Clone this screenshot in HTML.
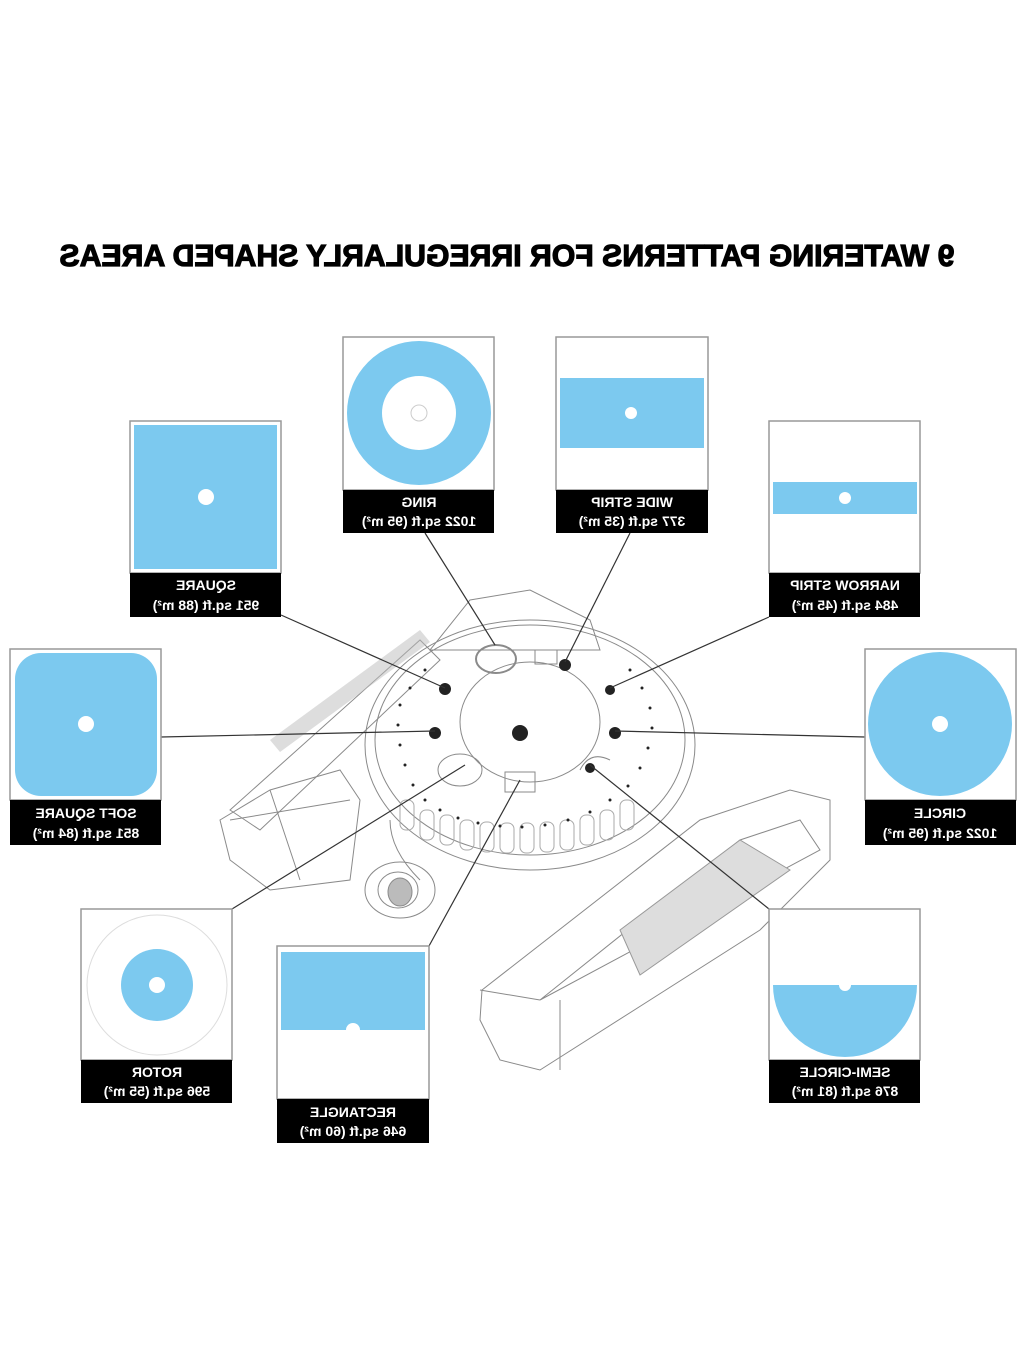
<!DOCTYPE html>
<html><head><meta charset="utf-8"><style>
html,body{margin:0;padding:0;background:#fff;width:1024px;height:1365px;overflow:hidden}
svg{display:block}
.t{font-family:"Liberation Sans",sans-serif;font-weight:bold;fill:#fff;font-size:14px}
.ttl{font-family:"Liberation Sans",sans-serif;font-weight:900;font-size:31px;fill:#000;stroke:#000;stroke-width:1.2}
.sk{fill:none;stroke:#8a8a8a;stroke-width:1}
.ln{stroke:#333;stroke-width:1.2;fill:none}
.box{fill:#fff;stroke:#999;stroke-width:1.5}
</style></head><body>
<svg width="1024" height="1365" viewBox="0 0 1024 1365" xmlns="http://www.w3.org/2000/svg">
<text class="ttl" text-anchor="middle" transform="translate(507,266) scale(-1,1)" textLength="895" lengthAdjust="spacingAndGlyphs">9 WATERING PATTERNS FOR IRREGULARLY SHAPED AREAS</text>

<!-- sprinkler sketch -->
<g class="sk">
<polygon points="470,600 530,590 590,620 600,650 430,650"/>
<polygon points="230,810 420,640 440,660 260,830"/>
<polygon points="220,820 270,790 340,770 360,800 350,880 270,890 230,860"/>
<line x1="270" y1="790" x2="300" y2="880"/>
<line x1="230" y1="820" x2="350" y2="800"/>
<polygon points="482,990 700,820 790,790 830,800 830,860 760,930 540,1070 500,1060 480,1020"/>
<polygon points="540,1000 740,840 800,820 820,850"/>
<line x1="560" y1="1000" x2="560" y2="1070"/>
<line x1="480" y1="990" x2="540" y2="1000"/>
<ellipse cx="530" cy="740" rx="155" ry="115"/>
<ellipse cx="530" cy="745" rx="165" ry="125"/>
<ellipse cx="530" cy="722" rx="70" ry="60"/>
<ellipse cx="496" cy="659" rx="20" ry="14" stroke-width="2"/>
<rect x="535" y="650" width="22" height="14"/>
<ellipse cx="460" cy="770" rx="22" ry="16"/>
<rect x="505" y="772" width="30" height="20"/>
<path d="M580 770 q10 -20 30 -10"/>
<ellipse cx="400" cy="890" rx="35" ry="28"/>
<ellipse cx="398" cy="890" rx="20" ry="18"/>
<ellipse cx="400" cy="892" rx="12" ry="14" fill="#bbb"/>
<path d="M390 820 q0 30 30 60"/>
<g stroke="#aaa">
<rect x="400" y="800" width="14" height="30" rx="6"/><rect x="420" y="810" width="14" height="30" rx="6"/><rect x="440" y="815" width="14" height="30" rx="6"/><rect x="460" y="820" width="14" height="30" rx="6"/><rect x="480" y="822" width="14" height="30" rx="6"/><rect x="500" y="823" width="14" height="30" rx="6"/><rect x="520" y="823" width="14" height="30" rx="6"/><rect x="540" y="822" width="14" height="30" rx="6"/><rect x="560" y="820" width="14" height="30" rx="6"/><rect x="580" y="815" width="14" height="30" rx="6"/><rect x="600" y="810" width="14" height="30" rx="6"/><rect x="620" y="800" width="14" height="30" rx="6"/>
</g>
</g>
<polygon points="270,740 420,630 430,642 280,752" fill="#bbb" opacity="0.5"/>
<polygon points="620,930 740,840 790,870 640,975" fill="#ddd" stroke="#999"/>
<g fill="#222">
<circle cx="445" cy="689" r="6"/><circle cx="565" cy="665" r="6"/><circle cx="610" cy="690" r="5"/>
<circle cx="435" cy="733" r="6"/><circle cx="520" cy="733" r="8"/><circle cx="615" cy="733" r="6"/>
<circle cx="590" cy="768" r="5"/>
</g>
<g fill="#222">
<circle cx="400" cy="705" r="1.5"/><circle cx="398" cy="725" r="1.5"/><circle cx="400" cy="745" r="1.5"/><circle cx="405" cy="765" r="1.5"/><circle cx="413" cy="785" r="1.5"/><circle cx="425" cy="800" r="1.5"/><circle cx="440" cy="810" r="1.5"/><circle cx="458" cy="818" r="1.5"/><circle cx="478" cy="823" r="1.5"/><circle cx="500" cy="826" r="1.5"/><circle cx="522" cy="827" r="1.5"/><circle cx="545" cy="825" r="1.5"/><circle cx="568" cy="820" r="1.5"/><circle cx="590" cy="812" r="1.5"/><circle cx="610" cy="800" r="1.5"/><circle cx="628" cy="786" r="1.5"/><circle cx="640" cy="768" r="1.5"/><circle cx="648" cy="748" r="1.5"/><circle cx="652" cy="728" r="1.5"/><circle cx="650" cy="708" r="1.5"/><circle cx="642" cy="688" r="1.5"/><circle cx="630" cy="670" r="1.5"/><circle cx="410" cy="688" r="1.5"/><circle cx="425" cy="670" r="1.5"/>
</g>

<!-- connectors -->
<g class="ln">
<line x1="425" y1="533" x2="495" y2="645"/>
<line x1="630" y1="533" x2="565" y2="662"/>
<line x1="281" y1="615" x2="445" y2="688"/>
<line x1="769" y1="617" x2="610" y2="688"/>
<line x1="161" y1="737" x2="435" y2="731"/>
<line x1="865" y1="737" x2="615" y2="731"/>
<line x1="232" y1="909" x2="465" y2="765"/>
<line x1="429" y1="946" x2="520" y2="780"/>
<line x1="769" y1="909" x2="590" y2="765"/>
</g>

<!-- RING -->
<rect class="box" x="343" y="337" width="151" height="153"/>
<circle cx="419" cy="413" r="72" fill="#7cc9ef"/><circle cx="419" cy="413" r="37" fill="#fff"/><circle cx="419" cy="413" r="8" fill="none" stroke="#ccc"/>
<rect x="343" y="490" width="151" height="43" fill="#000"/>
<text class="t" text-anchor="middle" transform="translate(419,507) scale(-1,1)">RING</text>
<text class="t" text-anchor="middle" transform="translate(419,526) scale(-1,1)">1022 sq.ft (95 m²)</text>

<!-- WIDE STRIP -->
<rect class="box" x="556" y="337" width="152" height="153"/>
<rect x="560" y="378" width="144" height="70" fill="#7cc9ef"/><circle cx="631" cy="413" r="6" fill="#fff"/>
<rect x="556" y="490" width="152" height="43" fill="#000"/>
<text class="t" text-anchor="middle" transform="translate(632,507) scale(-1,1)">WIDE STRIP</text>
<text class="t" text-anchor="middle" transform="translate(632,526) scale(-1,1)">377 sq.ft (35 m²)</text>

<!-- SQUARE -->
<rect class="box" x="130" y="421" width="151" height="152"/>
<rect x="134" y="425" width="143" height="144" fill="#7cc9ef"/><circle cx="206" cy="497" r="8" fill="#fff"/>
<rect x="130" y="573" width="151" height="44" fill="#000"/>
<text class="t" text-anchor="middle" transform="translate(206,590) scale(-1,1)">SQUARE</text>
<text class="t" text-anchor="middle" transform="translate(206,610) scale(-1,1)">951 sq.ft (88 m²)</text>

<!-- NARROW STRIP -->
<rect class="box" x="769" y="421" width="151" height="152"/>
<rect x="773" y="482" width="144" height="32" fill="#7cc9ef"/><circle cx="845" cy="498" r="6" fill="#fff"/>
<rect x="769" y="573" width="151" height="44" fill="#000"/>
<text class="t" text-anchor="middle" transform="translate(845,590) scale(-1,1)">NARROW STRIP</text>
<text class="t" text-anchor="middle" transform="translate(845,610) scale(-1,1)">484 sq.ft (45 m²)</text>

<!-- SOFT SQUARE -->
<rect class="box" x="10" y="649" width="151" height="151"/>
<rect x="15" y="653" width="142" height="143" rx="26" fill="#7cc9ef"/><circle cx="86" cy="724" r="8" fill="#fff"/>
<rect x="10" y="800" width="151" height="45" fill="#000"/>
<text class="t" text-anchor="middle" transform="translate(86,818) scale(-1,1)">SOFT SQUARE</text>
<text class="t" text-anchor="middle" transform="translate(86,838) scale(-1,1)">851 sq.ft (84 m²)</text>

<!-- CIRCLE -->
<rect class="box" x="865" y="649" width="151" height="151"/>
<circle cx="940" cy="724" r="72" fill="#7cc9ef"/><circle cx="940" cy="724" r="8" fill="#fff"/>
<rect x="865" y="800" width="151" height="45" fill="#000"/>
<text class="t" text-anchor="middle" transform="translate(940,818) scale(-1,1)">CIRCLE</text>
<text class="t" text-anchor="middle" transform="translate(940,838) scale(-1,1)">1022 sq.ft (95 m²)</text>

<!-- ROTOR -->
<rect class="box" x="81" y="909" width="151" height="151"/>
<circle cx="157" cy="985" r="70" fill="none" stroke="#ddd"/>
<circle cx="157" cy="985" r="36" fill="#7cc9ef"/><circle cx="157" cy="985" r="8" fill="#fff"/>
<rect x="81" y="1060" width="151" height="43" fill="#000"/>
<text class="t" text-anchor="middle" transform="translate(157,1077) scale(-1,1)">ROTOR</text>
<text class="t" text-anchor="middle" transform="translate(157,1096) scale(-1,1)">596 sq.ft (55 m²)</text>

<!-- RECTANGLE -->
<rect class="box" x="277" y="946" width="152" height="153"/>
<rect x="281" y="952" width="144" height="78" fill="#7cc9ef"/><circle cx="353" cy="1030" r="7" fill="#fff"/>
<rect x="277" y="1099" width="152" height="44" fill="#000"/>
<text class="t" text-anchor="middle" transform="translate(353,1117) scale(-1,1)">RECTANGLE</text>
<text class="t" text-anchor="middle" transform="translate(353,1136) scale(-1,1)">646 sq.ft (60 m²)</text>

<!-- SEMI-CIRCLE -->
<rect class="box" x="769" y="909" width="151" height="151"/>
<path d="M773 985 L917 985 A72 72 0 0 1 773 985 Z" fill="#7cc9ef"/><circle cx="845" cy="985" r="6" fill="#fff"/>
<rect x="769" y="1060" width="151" height="43" fill="#000"/>
<text class="t" text-anchor="middle" transform="translate(845,1077) scale(-1,1)">SEMI-CIRCLE</text>
<text class="t" text-anchor="middle" transform="translate(845,1096) scale(-1,1)">876 sq.ft (81 m²)</text>
</svg>
</body></html>
